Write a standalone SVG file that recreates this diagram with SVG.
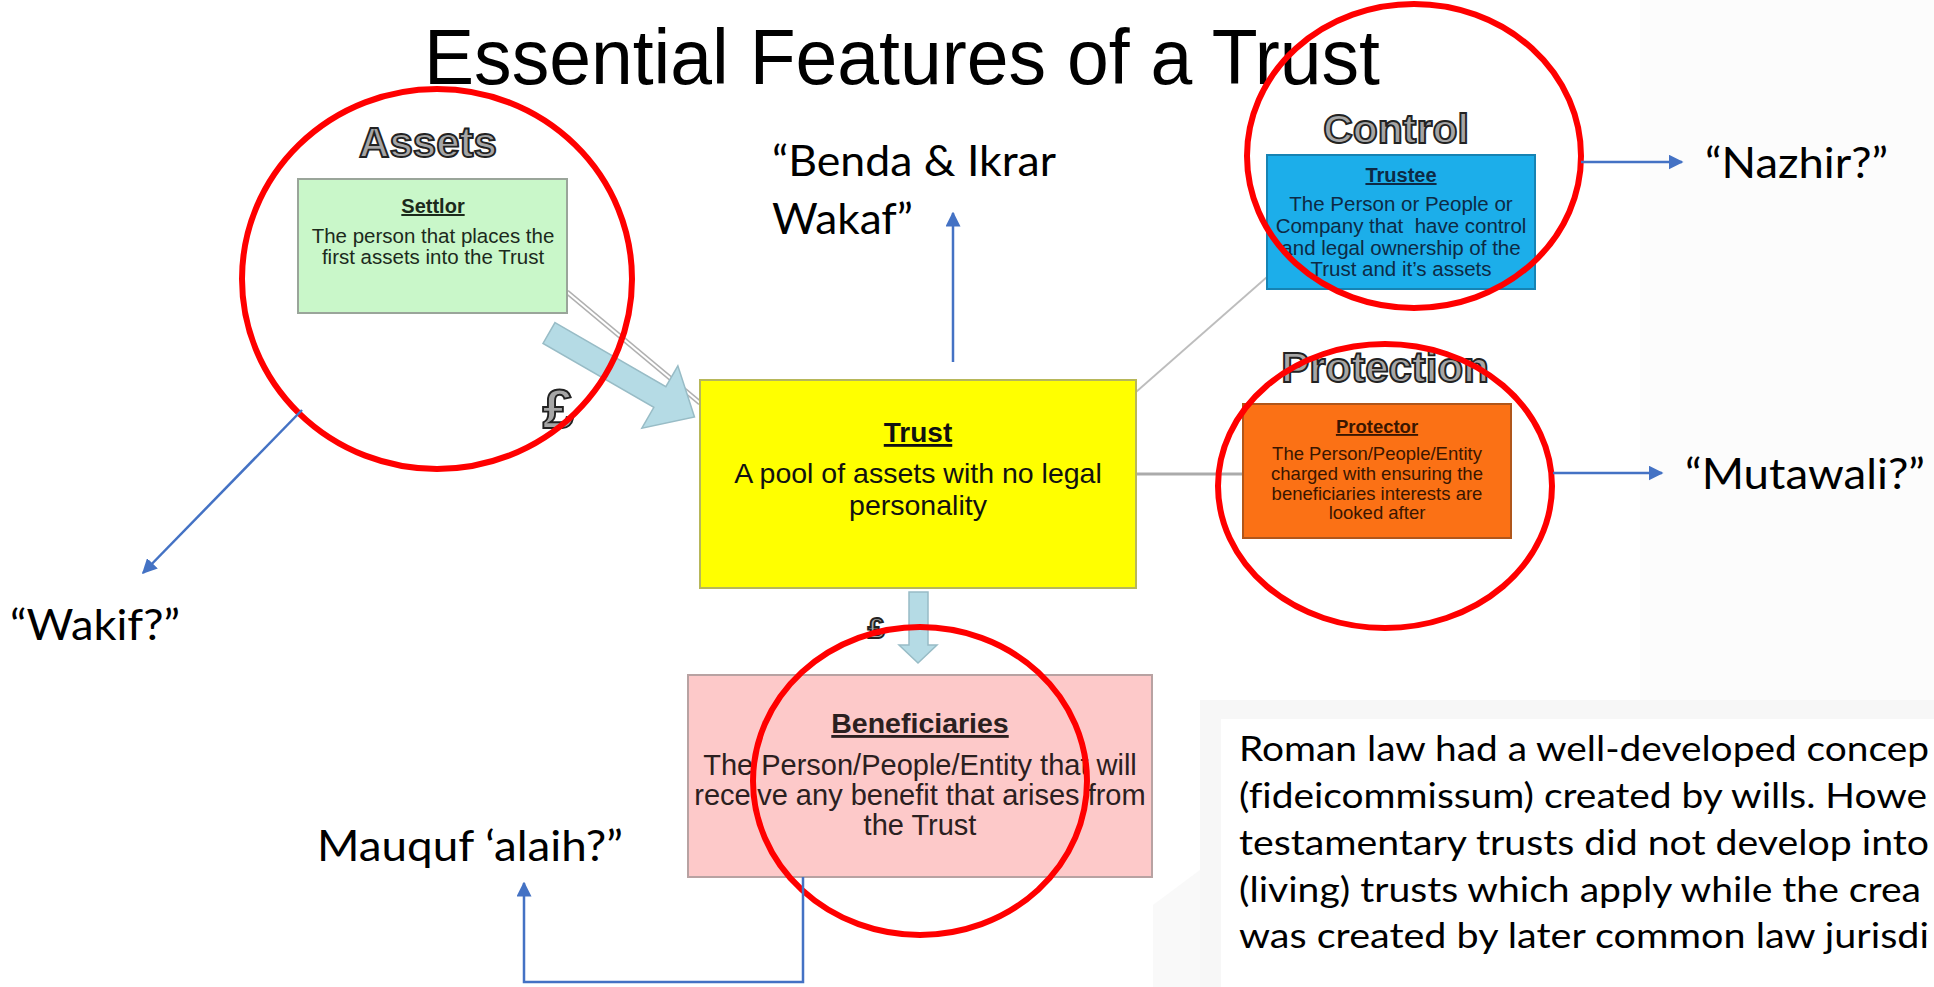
<svg xmlns="http://www.w3.org/2000/svg" width="1934" height="987" viewBox="0 0 1934 987">
<defs>
<style>
.title{font-family:"Liberation Sans",Arial,sans-serif;font-size:78px;fill:#000}
.wa{font-family:"Liberation Sans",Arial,sans-serif;font-weight:bold;fill:#a6a6a6;stroke:#222;stroke-width:1.9;text-anchor:middle}
.hd{font-family:"Liberation Sans",Arial,sans-serif;font-weight:bold;text-anchor:middle;text-decoration:underline}
.bd{font-family:"Liberation Sans",Arial,sans-serif;text-anchor:middle}
.lbl{font-family:Lato,"Open Sans",sans-serif;font-size:42px;fill:#000;font-variant-ligatures:none}
.para{font-family:Lato,"Open Sans",sans-serif;font-size:35px;fill:#000;font-variant-ligatures:none}
.ring{fill:none;stroke:#ff0000;stroke-width:6}
.blue{fill:none;stroke:#4472c4;stroke-width:2.5;marker-end:url(#bh)}
.fat{fill:#b5dbe5;stroke:#98bcc6;stroke-width:1.5}
</style>
<marker id="bh" viewBox="0 0 10 10" refX="9" refY="5" markerWidth="6" markerHeight="6" orient="auto" markerUnits="strokeWidth">
<path d="M0,0 L10,5 L0,10 z" fill="#4472c4"/>
</marker>
</defs>
<rect width="1934" height="987" fill="#ffffff"/>
<g id="backdrop">
<rect x="1640" y="0" width="294" height="700" fill="#fcfcfc"/>
<rect x="1200" y="700" width="734" height="287" fill="#f7f7f7"/>
<polygon points="1153,987 1153,905 1200,870 1200,987" fill="#f9f9f9"/>
<rect x="1221" y="719" width="713" height="268" fill="#ffffff"/>
</g>

<g id="title"><text class="title" x="424" y="84" textLength="956" lengthAdjust="spacingAndGlyphs">Essential Features of a Trust</text></g>

<g id="flows">
<line x1="567" y1="292" x2="700" y2="403" stroke="#b0b0b0" stroke-width="5"/>
<line x1="567" y1="292" x2="700" y2="403" stroke="#ffffff" stroke-width="2.2"/>
<polygon class="fat" transform="translate(549,333) rotate(30)" points="0,-12 128,-12 128,-36 168,0 128,36 128,12 0,12"/>
<polygon class="fat" points="909,592 928,592 928,645 937,645 918,663 899,645 909,645"/>
<line x1="1136" y1="392" x2="1267" y2="277" stroke="#bdbdbd" stroke-width="1.8"/>
<line x1="1136" y1="474" x2="1243" y2="474" stroke="#ababab" stroke-width="3"/>
<text class="wa" x="558" y="428" font-size="56">£</text>
<text class="wa" x="876" y="638" font-size="30" stroke-width="1.2">£</text>
</g>

<g id="node-assets">
<text class="wa" x="428" y="157" font-size="42">Assets</text>
<rect x="298" y="179" width="269" height="134" fill="#c9f7c9" stroke="#9aa59a" stroke-width="2"/>
<text class="hd" x="433" y="213" font-size="20" fill="#1c2a1c">Settlor</text>
<text class="bd" x="433" y="243" font-size="20.5" fill="#1c2a1c">The person that places the</text>
<text class="bd" x="433" y="264" font-size="20.5" fill="#1c2a1c">first assets into the Trust</text>
</g>

<g id="node-control">
<text class="wa" x="1396" y="143" font-size="41">Control</text>
<rect x="1267" y="155" width="268" height="134" fill="#1caeea" stroke="#1683b3" stroke-width="2"/>
<text class="hd" x="1401" y="182" font-size="20" fill="#0d2a45">Trustee</text>
<text class="bd" x="1401" y="211" font-size="20.5" fill="#0d2a45">The Person or People or</text>
<text class="bd" x="1401" y="233" font-size="20.5" fill="#0d2a45" style="white-space:pre">Company that  have control</text>
<text class="bd" x="1401" y="255" font-size="20.5" fill="#0d2a45">and legal ownership of the</text>
<text class="bd" x="1401" y="276" font-size="20.5" fill="#0d2a45">Trust and it’s assets</text>
</g>

<g id="node-protection">
<text class="wa" x="1385" y="382" font-size="42">Protection</text>
<rect x="1243" y="404" width="268" height="134" fill="#fb7115" stroke="#b0561a" stroke-width="2"/>
<text class="hd" x="1377" y="433" font-size="18.5" fill="#3a1600">Protector</text>
<text class="bd" x="1377" y="460" font-size="18.5" fill="#3a1600">The Person/People/Entity</text>
<text class="bd" x="1377" y="480" font-size="18.5" fill="#3a1600">charged with ensuring the</text>
<text class="bd" x="1377" y="500" font-size="18.5" fill="#3a1600">beneficiaries interests are</text>
<text class="bd" x="1377" y="519" font-size="18.5" fill="#3a1600">looked after</text>
</g>

<g id="node-trust">
<rect x="700" y="380" width="436" height="208" fill="#ffff00" stroke="#b7b75a" stroke-width="2"/>
<text class="hd" x="918" y="442" font-size="28" fill="#111">Trust</text>
<text class="bd" x="918" y="483" font-size="28.5" fill="#111">A pool of assets with no legal</text>
<text class="bd" x="918" y="515" font-size="28.5" fill="#111">personality</text>
</g>

<g id="node-beneficiaries">
<rect x="688" y="675" width="464" height="202" fill="#fdc9c9" stroke="#b8a2a2" stroke-width="2"/>
<text class="hd" x="920" y="733" font-size="28.5" fill="#2b2020">Beneficiaries</text>
<text class="bd" x="920" y="775" font-size="29" fill="#2b2020">The Person/People/Entity that will</text>
<text class="bd" x="920" y="805" font-size="29" fill="#2b2020">receive any benefit that arises from</text>
<text class="bd" x="920" y="835" font-size="29" fill="#2b2020">the Trust</text>
</g>

<g id="highlights">
<ellipse class="ring" cx="437" cy="279" rx="195" ry="190"/>
<ellipse class="ring" cx="1414" cy="156" rx="167" ry="152"/>
<ellipse class="ring" cx="1385" cy="486" rx="167" ry="142"/>
<ellipse class="ring" cx="920" cy="781" rx="167" ry="154"/>
</g>

<g id="connectors">
<line class="blue" x1="302" y1="410" x2="143" y2="573"/>
<line class="blue" x1="953" y1="362" x2="953" y2="213"/>
<line class="blue" x1="1581" y1="162" x2="1682" y2="162"/>
<line class="blue" x1="1553" y1="473" x2="1662" y2="473"/>
<polyline class="blue" points="803,877 803,982 524,982 524,883"/>
</g>

<g id="label-wakif"><text class="lbl" x="10" y="640" textLength="170" lengthAdjust="spacingAndGlyphs">“Wakif?”</text></g>
<g id="label-benda">
<text class="lbl" x="772" y="176" textLength="284" lengthAdjust="spacingAndGlyphs">“Benda &amp; Ikrar</text>
<text class="lbl" x="772" y="234" textLength="141" lengthAdjust="spacingAndGlyphs">Wakaf”</text>
</g>
<g id="label-nazhir"><text class="lbl" x="1705" y="178" textLength="183" lengthAdjust="spacingAndGlyphs">“Nazhir?”</text></g>
<g id="label-mutawali"><text class="lbl" x="1685" y="489" textLength="240" lengthAdjust="spacingAndGlyphs">“Mutawali?”</text></g>
<g id="label-mauquf"><text class="lbl" x="317" y="861" textLength="306" lengthAdjust="spacingAndGlyphs">Mauquf ‘alaih?”</text></g>

<g id="paragraph">
<text class="para" x="1239" y="761" textLength="690" lengthAdjust="spacingAndGlyphs">Roman law had a well-developed concep</text>
<text class="para" x="1239" y="808" textLength="688" lengthAdjust="spacingAndGlyphs">(fideicommissum) created by wills. Howe</text>
<text class="para" x="1239" y="855" textLength="690" lengthAdjust="spacingAndGlyphs">testamentary trusts did not develop into</text>
<text class="para" x="1239" y="902" textLength="682" lengthAdjust="spacingAndGlyphs">(living) trusts which apply while the crea</text>
<text class="para" x="1239" y="948" textLength="690" lengthAdjust="spacingAndGlyphs">was created by later common law jurisdi</text>
</g>
</svg>
